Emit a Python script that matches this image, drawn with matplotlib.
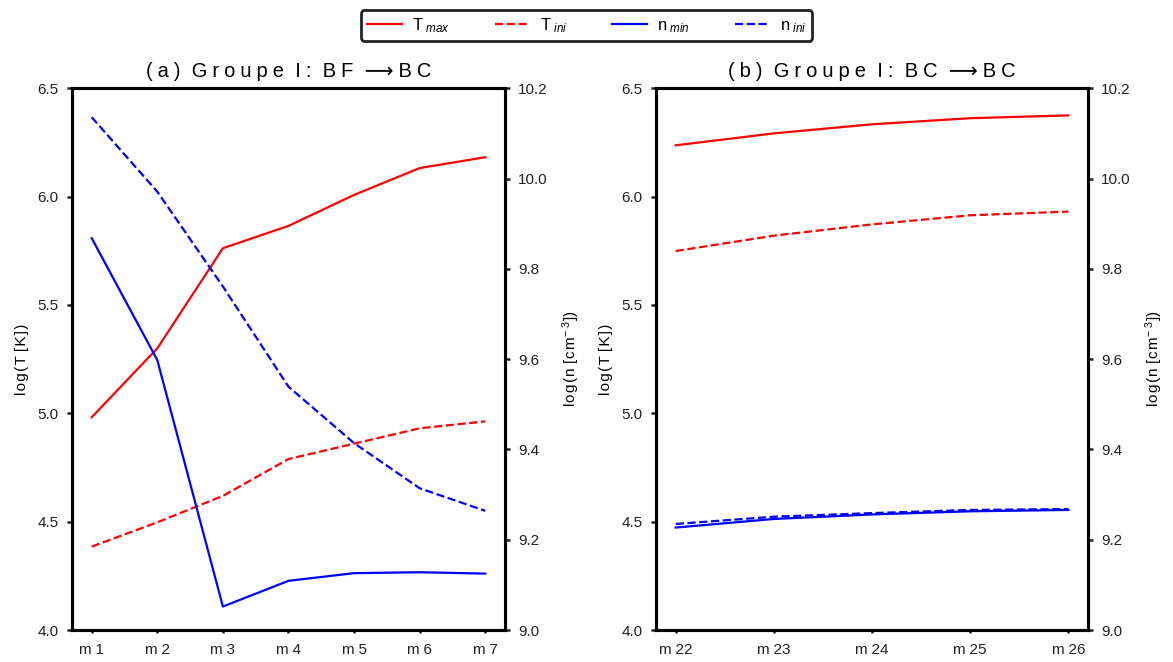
import matplotlib
matplotlib.use('Agg')
import matplotlib.pyplot as plt
from matplotlib.ticker import FormatStrFormatter

plt.rcParams['font.family'] = ['Liberation Sans', 'DejaVu Sans']
plt.rcParams['mathtext.fontset'] = 'custom'
plt.rcParams['mathtext.rm'] = 'Liberation Sans'
plt.rcParams['mathtext.it'] = 'Liberation Sans:italic'

# panneau (a) : Groupe I, BF -> BC
cats_a = ['m1', 'm2', 'm3', 'm4', 'm5', 'm6', 'm7']
tmax_a = [4.982, 5.30, 5.762, 5.865, 6.008, 6.132, 6.182]
tini_a = [4.385, 4.497, 4.619, 4.789, 4.860, 4.931, 4.963]
nmin_a = [9.868, 9.598, 9.052, 9.109, 9.126, 9.128, 9.125]
nini_a = [10.136, 9.971, 9.761, 9.539, 9.414, 9.314, 9.264]

# panneau (b) : Groupe I, BC -> BC
cats_b = ['m22', 'm23', 'm24', 'm25', 'm26']
tmax_b = [6.237, 6.292, 6.334, 6.362, 6.375]
tini_b = [5.749, 5.820, 5.872, 5.914, 5.931]
nmin_b = [9.227, 9.246, 9.256, 9.263, 9.266]
nini_b = [9.235, 9.251, 9.259, 9.266, 9.268]

t_ticks = [4.0, 4.5, 5.0, 5.5, 6.0, 6.5]
n_ticks = [9.0, 9.2, 9.4, 9.6, 9.8, 10.0, 10.2]


def spaced(s, gap='\u2005', word='  '):
    # espacement entre les lettres, espaces entre mots elargis
    out = s[0]
    for prev, c in zip(s, s[1:]):
        if c == ' ':
            out += word
            continue
        if prev != ' ':
            out += gap
        out += c
    return out


def panel(rect, cats, tmax, tini, nmin, nini, title, pad_x):
    ax = fig.add_axes(rect)
    ax2 = ax.twinx()
    x = list(range(len(cats)))

    l1, = ax.plot(x, tmax, color='#ff0000', lw=1.6, ls='-')
    l2, = ax.plot(x, tini, color='#ff0000', lw=1.6, ls='--')
    l3, = ax2.plot(x, nmin, color='#0000ff', lw=1.6, ls='-')
    l4, = ax2.plot(x, nini, color='#0000ff', lw=1.6, ls='--')

    ax.set_xlim(-pad_x, len(cats) - 1 + pad_x)
    ax.set_ylim(4.0, 6.5)
    ax2.set_ylim(9.0, 10.2)
    ax.set_yticks(t_ticks)
    ax2.set_yticks(n_ticks)
    ax.yaxis.set_major_formatter(FormatStrFormatter('%.1f'))
    ax2.yaxis.set_major_formatter(FormatStrFormatter('%.1f'))
    ax.set_xticks(x)
    ax.set_xticklabels([c[0] + '\u2005' + c[1:] for c in cats])

    for a in (ax, ax2):
        for sp in a.spines.values():
            sp.set_linewidth(2.2)
        a.tick_params(axis='y', direction='out', length=3.5, width=1.8,
                      labelsize=11, colors='#222222', pad=6)
    ax.tick_params(axis='x', direction='out', length=2.5, width=1.8,
                   labelsize=11, colors='#222222', pad=7)

    ax.set_ylabel(spaced('log(T [K])', '\u200a', ' '), fontsize=11, labelpad=6)
    ax2.set_ylabel(spaced('log(n [cm', '\u200a', ' ') + '$^{-\\ 3}$])',
                   fontsize=11, labelpad=9)
    ax.set_title(title, fontsize=14.5, pad=8)
    return [l1, l2, l3, l4]


fig = plt.figure(figsize=(11.73, 6.62), dpi=100)

handles = panel([0.0614, 0.0483, 0.3691, 0.8183], cats_a, tmax_a, tini_a,
                nmin_a, nini_a, spaced('(a) Groupe I: BF \u27f6BC'), 0.3)
panel([0.5593, 0.0483, 0.3682, 0.8183], cats_b, tmax_b, tini_b,
      nmin_b, nini_b, spaced('(b) Groupe I: BC \u27f6BC'), 0.2)

labels = ['T$_{\\ max}$', 'T$_{\\ ini}$', 'n$_{\\ min}$', 'n$_{\\ ini}$']
leg = fig.legend(handles, labels, loc='upper center', bbox_to_anchor=(0.5, 0.997),
                 ncol=4, fontsize=12, frameon=True, fancybox=True,
                 handlelength=2.1, handletextpad=0.6, columnspacing=2.7,
                 borderpad=0.35)
leg.get_frame().set_edgecolor('#222222')
leg.get_frame().set_linewidth(2)
leg.get_frame().set_alpha(1)

fig.savefig('out.png', dpi=100)
